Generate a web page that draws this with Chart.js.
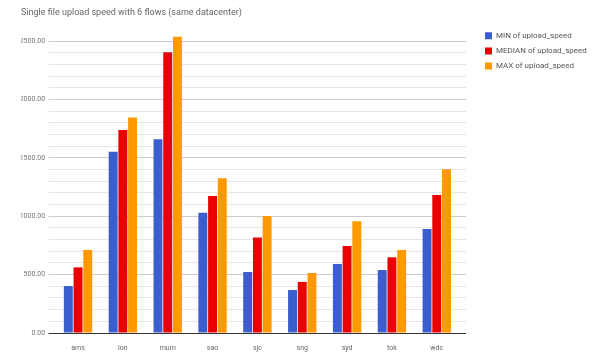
<!DOCTYPE html>
<html>
<head>
<meta charset="utf-8">
<script src="https://cdn.jsdelivr.net/npm/chart.js@4.4.1/dist/chart.umd.min.js"></script>
<style>
  html, body { margin: 0; padding: 0; background: #ffffff; }
  #wrap { width: 600px; height: 354px; position: relative; }
</style>
</head>
<body>
<div id="wrap"><canvas id="c" width="600" height="354"></canvas></div>
<script>
const categories = ['ams', 'lon', 'mum', 'sao', 'sjc', 'sng', 'syd', 'tok', 'wdc'];
const minValues = [402, 1552, 1658, 1030, 522, 368, 591, 539, 890];
const medianValues = [562, 1738, 2403, 1173, 817, 437, 745, 648, 1182];
const maxValues = [711, 1844, 2537, 1324, 1002, 514, 956, 711, 1401];
const seriesNames = ['MIN of upload_speed', 'MEDIAN of upload_speed', 'MAX of upload_speed'];
const yMin = 0, yMax = 2500, yMinorStep = 100, yMajorStep = 500;
const chartTitle = 'Single file upload speed with 6 flows (same datacenter)';

const FONT = 'Roboto';
const LEGEND_W = 122.2;

const legendFix = {
  id: 'legendFix',
  beforeLayout(chart) {
    const lg = chart.legend;
    if (lg && !lg.__patched) {
      const f = lg.fit;
      lg.fit = function () { f.call(this); this.width = LEGEND_W; };
      lg.__patched = true;
    }
  }
};

const gridColor = (ctx) => {
  const v = ctx.tick ? ctx.tick.value : null;
  if (v === 0) return '#333333';
  if (v % yMajorStep === 0) return '#cccccc';
  return '#e6e6e6';
};

new Chart(document.getElementById('c'), {
  type: 'bar',
  data: {
    labels: categories,
    datasets: [
      { label: seriesNames[0], data: minValues, backgroundColor: '#3b5ecf', borderWidth: 0, clip: false },
      { label: seriesNames[1], data: medianValues, backgroundColor: '#e90000', borderWidth: 0, clip: false },
      { label: seriesNames[2], data: maxValues, backgroundColor: '#ff9900', borderWidth: 0, clip: false }
    ]
  },
  plugins: [legendFix],
  options: {
    responsive: false,
    animation: false,
    devicePixelRatio: 1,
    layout: { padding: { left: 21, right: 0, top: 0, bottom: 0 } },
    datasets: { bar: { categoryPercentage: 0.65, barPercentage: 0.92 } },
    plugins: {
      title: {
        display: true,
        text: chartTitle,
        align: 'start',
        color: '#666666',
        font: { family: FONT, size: 9, weight: 'normal' },
        padding: { top: 7.6, bottom: 22.6 }
      },
      legend: {
        position: 'right',
        align: 'start',
        title: { display: true, text: '', font: { size: 1 }, padding: { top: 23.3, bottom: 0 } },
        labels: {
          boxWidth: 7,
          boxHeight: 7,
          padding: 7.2,
          color: '#555555',
          font: { family: FONT, size: 8 }
        }
      },
      tooltip: { enabled: false }
    },
    scales: {
      x: {
        grid: { display: false },
        border: { display: false },
        ticks: { color: '#666666', font: { family: FONT, size: 7 }, padding: 3.3, maxRotation: 0 },
        afterFit: (s) => { s.height = 21; }
      },
      y: {
        min: yMin,
        max: yMax,
        grid: { color: gridColor, tickLength: 7, drawTicks: true, lineWidth: 1 },
        border: { display: false },
        ticks: {
          stepSize: yMinorStep,
          padding: 3.5,
          color: '#757575',
          font: { family: FONT, size: 7 },
          callback: (v) => (v % yMajorStep === 0 ? v.toFixed(2) : '')
        },
        afterFit: (s) => { s.width = 34.6; }
      },
      y2: {
        position: 'right',
        min: yMin,
        max: yMax,
        grid: { color: gridColor, tickLength: 7, drawTicks: true, drawOnChartArea: false },
        border: { display: false },
        ticks: { stepSize: yMinorStep, display: false },
        afterFit: (s) => { s.width = 18.6; }
      }
    }
  }
});
</script>
</body>
</html>
